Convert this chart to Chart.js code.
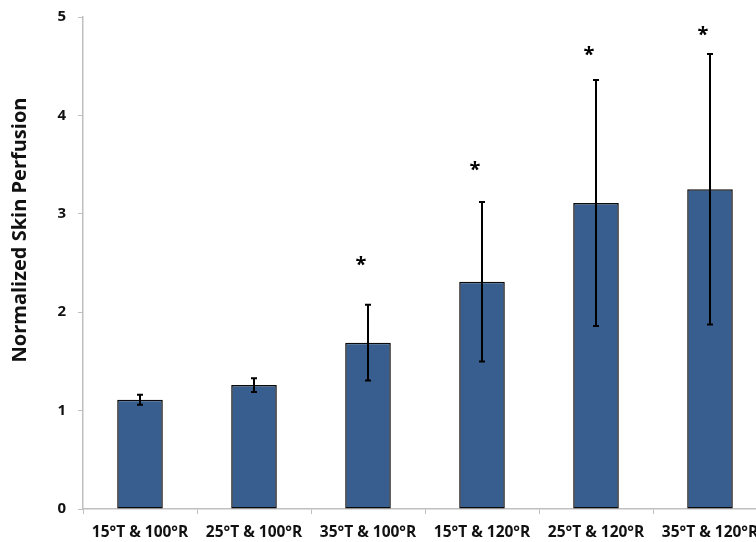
<!DOCTYPE html>
<html>
<head>
<meta charset="utf-8">
<script src="https://cdn.jsdelivr.net/npm/chart.js@4.4.1/dist/chart.umd.min.js"></script>
<style>
  html, body { margin: 0; padding: 0; background: #fff; overflow: hidden; }
  #wrap { width: 770px; height: 542px; }
</style>
</head>
<body>
<div id="wrap"><canvas id="chart"></canvas></div>
<script>
// Normalized skin perfusion per temperature / rate condition
const categories = ["15°T & 100°R", "25°T & 100°R", "35°T & 100°R", "15°T & 120°R", "25°T & 120°R", "35°T & 120°R"]
const means      = [1.11, 1.26, 1.69, 2.31, 3.11, 3.25]
const errors     = [0.05, 0.07, 0.385, 0.81, 1.25, 1.375]
// asterisk (significance) marks, in data units; null = no mark
const starY      = [null, null, 2.52, 3.48, 4.65, 4.85]
const yTicks     = [0, 1, 2, 3, 4, 5]

const FONT = "'Open Sans', 'DejaVu Sans', sans-serif"
const AXIS_GREY = "#bfbfbf"

const errorBars = {
  id: "errorBars",
  afterDatasetsDraw(chart) {
    const { ctx, scales: { x, y } } = chart
    ctx.save()
    ctx.strokeStyle = "#000"
    ctx.lineWidth = 2
    means.forEach((m, i) => {
      const cx = x.getPixelForValue(i)
      const top = y.getPixelForValue(m + errors[i])
      const bot = y.getPixelForValue(m - errors[i])
      ctx.beginPath()
      ctx.moveTo(cx, top); ctx.lineTo(cx, bot)
      ctx.moveTo(cx - 3, top); ctx.lineTo(cx + 3, top)
      ctx.moveTo(cx - 3, bot); ctx.lineTo(cx + 3, bot)
      ctx.stroke()
    })
    // significance stars
    ctx.fillStyle = "#000"
    ctx.font = `bold 20px ${FONT}`
    ctx.textAlign = "center"
    ctx.textBaseline = "middle"
    starY.forEach((s, i) => {
      if (s == null) return
      ctx.fillText("*", x.getPixelForValue(i) - 7, y.getPixelForValue(s) + 4)
    })
    // y axis title
    const ca = chart.chartArea
    ctx.translate(20, (ca.top + ca.bottom) / 2 - 33)
    ctx.rotate(-Math.PI / 2)
    ctx.font = `bold 20px ${FONT}`
    ctx.fillStyle = "#111"
    ctx.fillText("Normalized Skin Perfusion", 0, 0)
    ctx.restore()
  }
}

new Chart(document.getElementById("chart"), {
  type: "bar",
  data: {
    labels: categories,
    datasets: [{
      data: means,
      backgroundColor: "#375e8f",
      borderColor: "#0a0a0a",
      borderWidth: 1.5,
      borderSkipped: false,
      categoryPercentage: 1,
      barPercentage: 0.4,
    }]
  },
  options: {
    responsive: true,
    maintainAspectRatio: false,
    animation: false,
    layout: { padding: { top: 17, right: 3, left: 0, bottom: 0 } },
    plugins: { legend: { display: false }, tooltip: { enabled: false } },
    scales: {
      x: {
        grid: { offset: true, drawOnChartArea: false, drawTicks: true, tickLength: 5, color: AXIS_GREY },
        border: { color: AXIS_GREY, width: 1.5 },
        ticks: { color: "#111", font: { family: FONT, size: 15.5, weight: "bold" }, padding: 9, maxRotation: 0, autoSkip: false },
        afterFit: (s) => { s.height = 33 },
      },
      y: {
        min: 0, max: 5,
        afterBuildTicks: (s) => { s.ticks = yTicks.map(v => ({ value: v })) },
        grid: { drawOnChartArea: false, drawTicks: true, tickLength: 5, color: AXIS_GREY },
        border: { color: AXIS_GREY, width: 1.5 },
        ticks: { color: "#111", font: { family: FONT, size: 15, weight: "bold" }, padding: 12 },
        afterFit: (s) => { s.width = 83; s.paddingTop = 0; s.paddingBottom = 0 },
      },
    },
  },
  plugins: [errorBars],
})
</script>
</body>
</html>
